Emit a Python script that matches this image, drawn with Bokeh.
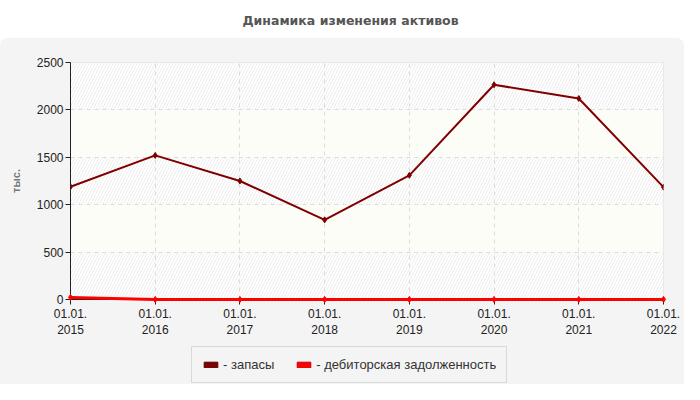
from bokeh.plotting import figure
from bokeh.layouts import column
from bokeh.models import FixedTicker, Legend, LegendItem, Range1d
from bokeh.core.properties import value
from bokeh.embed import file_html
from bokeh.resources import INLINE

# ---- data ----
title_text = "Динамика изменения активов"
years = [2015, 2016, 2017, 2018, 2019, 2020, 2021, 2022]
tick_labels = ["01.01.\n2015", "01.01.\n2016", "01.01.\n2017", "01.01.\n2018",
               "01.01.\n2019", "01.01.\n2020", "01.01.\n2021", "01.01.\n2022"]
zapasy = [1190, 1520, 1250, 840, 1310, 2265, 2120, 1185]
debitor = [22, 1, 1, 1, 1, 1, 1, 1]
series_names = ["- запасы", "- дебиторская задолженность"]
series_colors = ["#800000", "#ff0000"]
swatch_borders = ["#5a0000", "#cc0000"]
y_ticks = [0, 500, 1000, 1500, 2000, 2500]
y_label = "тыс."

FONT = "Liberation Sans"
PANEL = "#f4f4f4"
W = 684
LEFT, RIGHT = 70, 21


def strip(height, bg):
    f = figure(width=W, height=height, output_backend="svg", toolbar_location=None,
               x_range=Range1d(LEFT, W - RIGHT), y_range=Range1d(0, 1),
               x_axis_location=None, y_axis_location=None,
               min_border_left=LEFT, min_border_right=RIGHT,
               min_border_top=0, min_border_bottom=0)
    f.grid.visible = False
    f.outline_line_color = None
    f.background_fill_color = bg
    f.border_fill_color = bg
    f.styles = {"background-color": bg}
    return f


# ---- title strip ----
tf = strip(38, "white")
tf.text(x=[350], y=[0.47], text=[title_text], text_font=value("DejaVu Sans"),
        text_font_size="12.5px", text_font_style="bold", text_color="#555555",
        text_align="center", text_baseline="middle")

# ---- main chart ----
p = figure(width=W, height=302, output_backend="svg", toolbar_location=None,
           x_range=Range1d(years[0], years[-1]), y_range=Range1d(y_ticks[0], y_ticks[-1]),
           min_border_left=LEFT, min_border_right=RIGHT, min_border_top=24, min_border_bottom=40)
p.border_fill_color = PANEL
p.background_fill_color = "#ffffff"
p.outline_line_color = "#e2e2e2"
p.styles = {"border-top-left-radius": "8px", "border-top-right-radius": "8px",
            "overflow": "hidden", "background-color": PANEL}

# bands
for i in range(len(y_ticks) - 1):
    if i % 2 == 0:
        p.quad(left=years[0], right=years[-1], bottom=y_ticks[i], top=y_ticks[i + 1],
               fill_color="#ffffff", line_color=None,
               hatch_pattern="/", hatch_color="#ededed", hatch_scale=6,
               hatch_weight=1, level="underlay")
    else:
        p.quad(left=years[0], right=years[-1], bottom=y_ticks[i], top=y_ticks[i + 1],
               fill_color="#fdfdf7", line_color=None, level="underlay")

p.xaxis.ticker = FixedTicker(ticks=years)
p.xaxis.major_label_overrides = {y: l for y, l in zip(years, tick_labels)}
p.yaxis.ticker = FixedTicker(ticks=y_ticks)

for ax in (p.xaxis, p.yaxis):
    ax.axis_line_color = "#222222"
    ax.major_tick_line_color = "#222222"
    ax.major_tick_out = 5
    ax.major_tick_in = 0
    ax.minor_tick_line_color = None
    ax.major_label_text_font = FONT
    ax.major_label_text_font_size = "12px"
    ax.major_label_text_color = "#222222"
p.yaxis.major_label_standoff = 2
p.xaxis.major_label_standoff = 2
p.yaxis.axis_label = y_label
p.yaxis.axis_label_text_font = FONT
p.yaxis.axis_label_text_font_size = "11px"
p.yaxis.axis_label_text_font_style = "bold"
p.yaxis.axis_label_text_color = "#777777"
p.yaxis.axis_label_standoff = 12

p.xgrid.grid_line_color = "#dddddd"
p.xgrid.grid_line_dash = "4 4"
p.ygrid.grid_line_color = "#dddddd"
p.ygrid.grid_line_dash = "4 4"

p.line(years, zapasy, line_color=series_colors[0], line_width=2)
p.scatter(years, zapasy, marker="diamond", size=6, fill_color=series_colors[0],
          line_color=series_colors[0])
p.line(years, debitor, line_color=series_colors[1], line_width=3, level="overlay")
p.scatter(years, debitor, marker="diamond", size=6, fill_color=series_colors[1],
          line_color=series_colors[1], level="overlay")

# ---- legend strip ----
lf = strip(44, PANEL)
swatches = []
for c, b in zip(series_colors, swatch_borders):
    swatches.append(lf.quad(left=[LEFT], right=[LEFT], bottom=[0], top=[0], fill_color=c,
                            line_color=b, visible=False))

legend = Legend(items=[LegendItem(label=n, renderers=[r]) for n, r in zip(series_names, swatches)],
                orientation="horizontal", location=(121, 1),
                glyph_width=17, glyph_height=7, label_standoff=4, spacing=21,
                padding=10, margin=0,
                label_text_font=FONT, label_text_font_size="13px",
                label_text_color="#333333",
                background_fill_color=PANEL, background_fill_alpha=1,
                border_line_color="#bbbbbb", border_line_width=1)
lf.add_layout(legend, "center")

layout = column(tf, p, lf, spacing=0)
open("out.html", "w").write(file_html(layout, INLINE))
